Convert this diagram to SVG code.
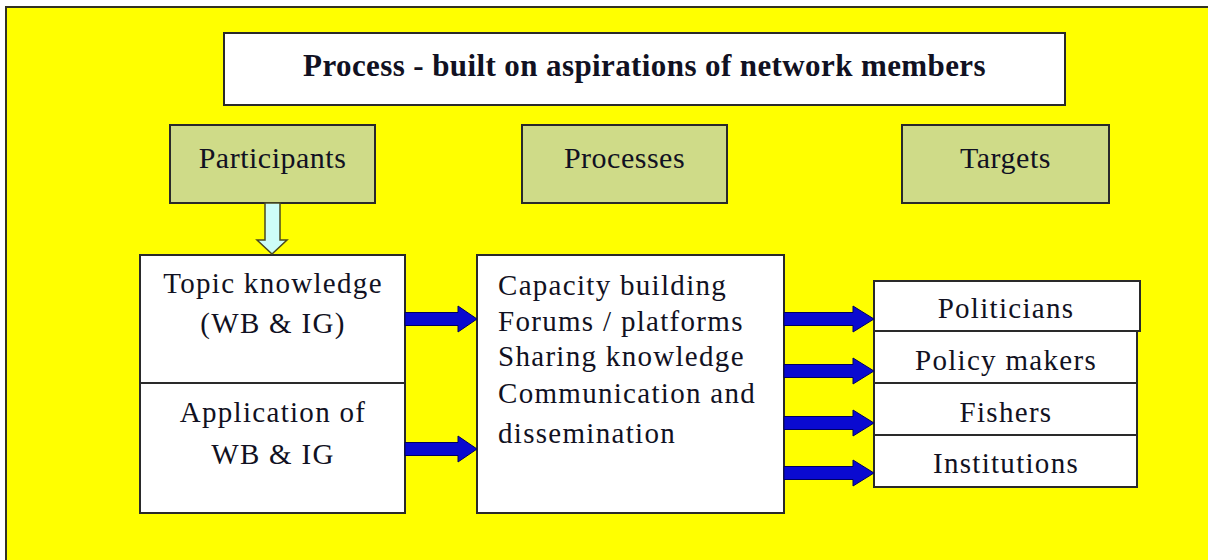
<svg xmlns="http://www.w3.org/2000/svg" width="1208" height="560" viewBox="0 0 1208 560">
  <style>
    text { font-family: "Liberation Serif", "Times New Roman", serif; fill: #111122; }
    .title { font-size: 31px; font-weight: bold; letter-spacing: 0.4px; }
    .head { font-size: 30px; letter-spacing: 0.5px; }
    .body { font-size: 29px; letter-spacing: 1.3px; }
    .box { fill: #ffffff; stroke: #2a2a2a; stroke-width: 2; }
    .hbox { fill: #cfdb88; stroke: #2a2a2a; stroke-width: 2; }
    .flow { fill: #0a0ad0; stroke: #000060; stroke-width: 1; }
    .feed { fill: #cdfdf8; stroke: #4a4a20; stroke-width: 1.5; }
  </style>

  <!-- background panel -->
  <rect x="6" y="7" width="1210" height="560" fill="#ffff00" stroke="#333322" stroke-width="2"/>

  <!-- title -->
  <g id="title">
    <rect class="box" x="224" y="33" width="841" height="72"/>
    <text class="title" x="644.5" y="76" text-anchor="middle">Process - built on aspirations of network members</text>
  </g>

  <!-- column headers -->
  <g id="participants">
    <rect class="hbox" x="170" y="125" width="205" height="78"/>
    <text class="head" x="272.5" y="168" text-anchor="middle">Participants</text>
  </g>
  <g id="processes">
    <rect class="hbox" x="522" y="125" width="205" height="78"/>
    <text class="head" x="624.5" y="168" text-anchor="middle">Processes</text>
  </g>
  <g id="targets">
    <rect class="hbox" x="902" y="125" width="207" height="78"/>
    <text class="head" x="1005.5" y="168" text-anchor="middle">Targets</text>
  </g>

  <!-- participant knowledge -->
  <g id="topic-knowledge">
    <rect class="box" x="140" y="255" width="265" height="128"/>
    <text class="body" x="273" y="293" text-anchor="middle">Topic knowledge</text>
    <text class="body" x="273" y="333" text-anchor="middle">(WB &amp; IG)</text>
  </g>
  <g id="application">
    <rect class="box" x="140" y="383" width="265" height="130"/>
    <text class="body" x="273" y="422" text-anchor="middle">Application of</text>
    <text class="body" x="273" y="464" text-anchor="middle">WB &amp; IG</text>
  </g>

  <!-- process list -->
  <g id="process-list">
    <rect class="box" x="477" y="255" width="307" height="258"/>
    <text class="body" x="498" y="295">Capacity building</text>
    <text class="body" x="498" y="331">Forums / platforms</text>
    <text class="body" x="498" y="366">Sharing knowledge</text>
    <text class="body" x="498" y="403">Communication and</text>
    <text class="body" x="498" y="443">dissemination</text>
  </g>

  <!-- target audiences -->
  <g id="politicians">
    <rect class="box" x="874" y="281" width="266" height="50"/>
    <text class="body" x="1006" y="318" text-anchor="middle">Politicians</text>
  </g>
  <g id="policy-makers">
    <rect class="box" x="874" y="331" width="263" height="52"/>
    <text class="body" x="1006" y="370" text-anchor="middle">Policy makers</text>
  </g>
  <g id="fishers">
    <rect class="box" x="874" y="383" width="263" height="52"/>
    <text class="body" x="1006" y="422" text-anchor="middle">Fishers</text>
  </g>
  <g id="institutions">
    <rect class="box" x="874" y="435" width="263" height="52"/>
    <text class="body" x="1006" y="473" text-anchor="middle">Institutions</text>
  </g>

  <!-- connectors -->
  <g id="connectors">
    <!-- participants feed into topic knowledge -->
    <path class="feed" d="M265,203 H280 V240 H287 L272,254 L257,240 H265 Z"/>
    <!-- participants to processes -->
    <path class="flow" d="M405,312.5 H458 V306 L477,319 L458,332 V325.5 H405 Z"/>
    <path class="flow" d="M405,442.5 H458 V436 L477,449 L458,462 V455.5 H405 Z"/>
    <!-- processes to targets -->
    <path class="flow" d="M784,312.5 H853 V306 L874,319 L853,332 V325.5 H784 Z"/>
    <path class="flow" d="M784,364.5 H853 V358 L874,371 L853,384 V377.5 H784 Z"/>
    <path class="flow" d="M784,416.5 H853 V410 L874,423 L853,436 V429.5 H784 Z"/>
    <path class="flow" d="M784,466.5 H853 V460 L874,473 L853,486 V479.5 H784 Z"/>
  </g>
</svg>
